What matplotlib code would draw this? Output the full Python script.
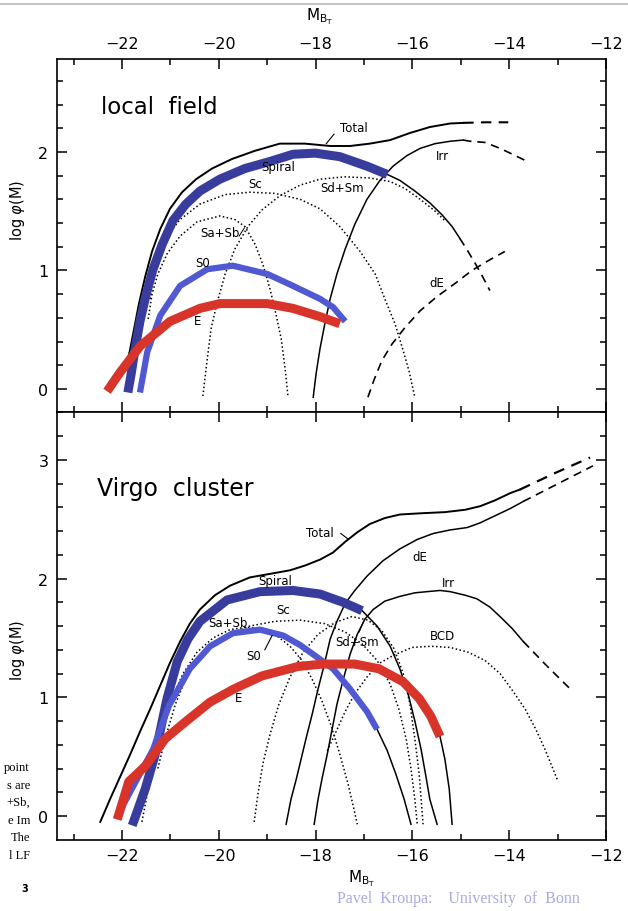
import matplotlib.pyplot as plt

# ---- local field (top panel) ----
total_top_x = [-21.90, -21.83, -21.75, -21.65, -21.52, -21.38, -21.21, -21.01, -20.76, -20.47, -20.14, -19.73, -19.25, -18.74, -18.22, -17.70, -17.29, -16.88, -16.46, -16.05, -15.64, -15.22, -14.95]
total_top_y = [0.21, 0.34, 0.51, 0.72, 0.95, 1.16, 1.35, 1.52, 1.66, 1.77, 1.86, 1.94, 2.01, 2.07, 2.07, 2.05, 2.05, 2.07, 2.10, 2.16, 2.21, 2.24, 2.245]
total_top_dx = [-14.95, -14.50, -14.02]
total_top_dy = [2.245, 2.25, 2.25]

spiral_top_x = [-21.88, -21.81, -21.73, -21.63, -21.50, -21.36, -21.17, -20.95, -20.68, -20.39, -19.98, -19.46, -18.94, -18.47, -18.01, -17.50, -16.94, -16.52]
spiral_top_y = [-0.03, 0.13, 0.34, 0.57, 0.80, 1.01, 1.22, 1.42, 1.56, 1.67, 1.77, 1.86, 1.92, 1.98, 1.99, 1.96, 1.88, 1.81]
spiral_tail_top_x = [-16.88, -16.52, -16.26, -15.95, -15.64, -15.39, -15.18, -15.02]
spiral_tail_top_y = [1.86, 1.81, 1.76, 1.67, 1.57, 1.47, 1.37, 1.27]
spiral_tail_top_dx = [-15.02, -14.85, -14.69, -14.54, -14.40]
spiral_tail_top_dy = [1.27, 1.16, 1.05, 0.94, 0.83]

s0_top_x = [-21.63, -21.55, -21.48, -21.21, -20.80, -20.24, -19.71, -19.00, -18.47, -17.91, -17.64, -17.39]
s0_top_y = [-0.03, 0.15, 0.31, 0.62, 0.87, 1.01, 1.04, 0.97, 0.87, 0.76, 0.69, 0.57]

e_top_x = [-22.31, -22.04, -21.63, -21.01, -20.39, -19.98, -19.00, -18.47, -17.91, -17.50]
e_top_y = [-0.02, 0.14, 0.36, 0.57, 0.68, 0.72, 0.72, 0.68, 0.61, 0.55]

sasb_top_x = [-21.46, -21.38, -21.26, -21.07, -20.80, -20.45, -19.98, -19.67, -19.46, -19.25, -19.09, -18.94, -18.82, -18.71, -18.63, -18.57]
sasb_top_y = [0.59, 0.80, 0.97, 1.14, 1.29, 1.41, 1.46, 1.43, 1.37, 1.22, 1.05, 0.84, 0.63, 0.42, 0.17, -0.07]

sc_top_x = [-21.42, -21.32, -21.11, -20.80, -20.39, -19.87, -19.36, -18.84, -18.32, -17.91, -17.50, -17.08, -16.77, -16.57, -16.36, -16.21, -16.07, -15.95]
sc_top_y = [0.76, 1.01, 1.27, 1.43, 1.56, 1.64, 1.66, 1.65, 1.60, 1.52, 1.37, 1.16, 0.97, 0.76, 0.55, 0.35, 0.15, -0.07]

sdsm_top_x = [-20.33, -20.24, -20.16, -20.04, -19.87, -19.67, -19.40, -19.11, -18.74, -18.32, -17.91, -17.39, -16.88, -16.46, -16.15, -15.84, -15.53, -15.33]
sdsm_top_y = [-0.06, 0.25, 0.51, 0.72, 0.97, 1.18, 1.37, 1.51, 1.63, 1.72, 1.77, 1.79, 1.78, 1.75, 1.69, 1.60, 1.50, 1.42]

irr_top_x = [-18.05, -17.99, -17.91, -17.81, -17.70, -17.56, -17.39, -17.19, -16.94, -16.67, -16.40, -16.11, -15.84, -15.53, -15.22, -14.95]
irr_top_y = [-0.07, 0.13, 0.34, 0.55, 0.76, 0.97, 1.18, 1.39, 1.60, 1.76, 1.88, 1.97, 2.03, 2.07, 2.09, 2.10]
irr_top_dx = [-14.95, -14.81, -14.50, -14.19, -13.88, -13.63]
irr_top_dy = [2.10, 2.09, 2.08, 2.03, 1.97, 1.92]

de_top_x = [-16.92, -16.79, -16.63, -16.42, -16.15, -15.84, -15.49, -15.12, -14.77, -14.40, -14.09]
de_top_y = [-0.07, 0.08, 0.24, 0.38, 0.52, 0.66, 0.78, 0.89, 1.00, 1.09, 1.16]

# ---- Virgo cluster (bottom panel) ----
total_bot_x = [-22.45, -22.25, -22.04, -21.83, -21.63, -21.42, -21.21, -21.01, -20.80, -20.60, -20.39, -20.08, -19.77, -19.36, -18.94, -18.53, -18.22, -17.91, -17.64, -17.39, -17.14, -16.88, -16.57, -16.26, -15.84, -15.33, -14.91, -14.60, -14.29, -13.98, -13.78]
total_bot_y = [-0.05, 0.14, 0.33, 0.52, 0.71, 0.90, 1.10, 1.29, 1.47, 1.62, 1.74, 1.86, 1.94, 2.01, 2.04, 2.07, 2.11, 2.16, 2.22, 2.31, 2.39, 2.46, 2.51, 2.54, 2.55, 2.56, 2.58, 2.61, 2.66, 2.72, 2.75]
total_bot_dx = [-13.78, -13.05, -12.33]
total_bot_dy = [2.75, 2.89, 3.02]

spiral_bot_x = [-21.79, -21.52, -21.32, -21.07, -20.86, -20.64, -20.39, -19.83, -19.15, -18.47, -17.91, -17.43, -17.04]
spiral_bot_y = [-0.08, 0.23, 0.51, 0.99, 1.30, 1.49, 1.64, 1.82, 1.89, 1.90, 1.87, 1.80, 1.73]
spiral_tail_bot_x = [-17.39, -17.04, -16.73, -16.46, -16.26, -16.09, -15.95, -15.82, -15.72, -15.64, -15.49]
spiral_tail_bot_y = [1.79, 1.73, 1.60, 1.43, 1.24, 1.03, 0.80, 0.56, 0.33, 0.14, -0.07]

s0_bot_x = [-22.06, -21.77, -21.36, -21.03, -20.60, -20.18, -19.71, -19.15, -18.67, -18.32, -18.01, -17.64, -17.29, -16.94, -16.73]
s0_bot_y = [0.03, 0.25, 0.56, 0.93, 1.24, 1.43, 1.54, 1.57, 1.52, 1.44, 1.35, 1.24, 1.07, 0.88, 0.73]
s0_tail_bot_x = [-16.94, -16.73, -16.52, -16.34, -16.17, -16.03]
s0_tail_bot_y = [0.88, 0.73, 0.55, 0.35, 0.14, -0.07]

e_bot_x = [-22.10, -21.86, -21.52, -21.11, -20.70, -20.18, -19.69, -19.11, -18.36, -17.85, -17.19, -16.69, -16.19, -15.86, -15.62, -15.43]
e_bot_y = [-0.03, 0.29, 0.42, 0.65, 0.79, 0.96, 1.07, 1.18, 1.26, 1.28, 1.28, 1.24, 1.13, 0.99, 0.84, 0.67]
e_tail_bot_x = [-15.62, -15.43, -15.33, -15.24, -15.18]
e_tail_bot_y = [0.84, 0.67, 0.48, 0.23, -0.07]

sasb_bot_x = [-21.59, -21.50, -21.42, -21.30, -21.15, -20.97, -20.74, -20.45, -20.12, -19.77, -19.46, -19.15, -18.84, -18.53, -18.28, -18.07, -17.87, -17.68, -17.50, -17.33, -17.21, -17.14]
sasb_bot_y = [-0.05, 0.14, 0.31, 0.52, 0.75, 0.99, 1.20, 1.38, 1.50, 1.57, 1.59, 1.58, 1.53, 1.43, 1.31, 1.15, 0.97, 0.76, 0.52, 0.27, 0.06, -0.07]

sc_bot_x = [-21.26, -21.11, -20.90, -20.64, -20.29, -19.87, -19.36, -18.84, -18.32, -17.81, -17.39, -17.04, -16.73, -16.46, -16.28, -16.13, -16.03, -15.95, -15.90]
sc_bot_y = [0.40, 0.65, 0.94, 1.20, 1.39, 1.52, 1.60, 1.64, 1.65, 1.62, 1.55, 1.45, 1.31, 1.11, 0.90, 0.65, 0.40, 0.14, -0.07]

sdsm_bot_x = [-19.27, -19.19, -19.09, -18.94, -18.76, -18.53, -18.26, -17.95, -17.60, -17.25, -16.92, -16.63, -16.38, -16.19, -16.05, -15.95, -15.86, -15.82, -15.78]
sdsm_bot_y = [-0.05, 0.19, 0.44, 0.69, 0.94, 1.17, 1.38, 1.53, 1.63, 1.68, 1.65, 1.56, 1.41, 1.20, 0.94, 0.65, 0.35, 0.14, -0.07]

de_bot_x = [-18.61, -18.51, -18.40, -18.30, -18.20, -18.07, -17.95, -17.83, -17.70, -17.56, -17.39, -17.19, -16.94, -16.61, -16.26, -15.90, -15.57, -15.22, -14.87, -14.60, -14.29, -13.98, -13.71]
de_bot_y = [-0.07, 0.14, 0.31, 0.48, 0.65, 0.86, 1.07, 1.26, 1.49, 1.64, 1.79, 1.90, 2.02, 2.15, 2.25, 2.33, 2.38, 2.41, 2.43, 2.47, 2.53, 2.59, 2.65]
de_bot_dx = [-13.71, -12.99, -12.27]
de_bot_dy = [2.65, 2.80, 2.95]

irr_bot_x = [-18.03, -17.95, -17.87, -17.76, -17.66, -17.56, -17.43, -17.29, -17.14, -16.98, -16.81, -16.57, -16.26, -15.95, -15.70, -15.43, -15.22, -14.91, -14.67, -14.40, -14.19, -13.94, -13.71]
irr_bot_y = [-0.07, 0.14, 0.31, 0.52, 0.73, 0.94, 1.15, 1.36, 1.53, 1.66, 1.74, 1.81, 1.85, 1.88, 1.89, 1.90, 1.89, 1.86, 1.83, 1.76, 1.68, 1.58, 1.47]
irr_bot_dx = [-13.71, -13.26, -12.74]
irr_bot_dy = [1.47, 1.28, 1.07]

bcd_bot_x = [-17.76, -17.60, -17.39, -17.19, -16.94, -16.67, -16.36, -16.01, -15.62, -15.22, -14.85, -14.50, -14.19, -13.92, -13.67, -13.45, -13.26, -13.12, -12.99]
bcd_bot_y = [0.55, 0.69, 0.88, 1.03, 1.17, 1.29, 1.36, 1.42, 1.43, 1.42, 1.38, 1.31, 1.20, 1.05, 0.90, 0.73, 0.56, 0.42, 0.29]

side_lines = ["point", "s are", "+Sb,", "e Im", "The", "l LF"]

DARK = "#383c9c"
MID = "#5058d2"
RED = "#d8342a"
DOT = (0, (1, 1.6))
DASH = (0, (5, 3.5))

fig = plt.figure(figsize=(6.28, 9.12), dpi=100)
ax1 = fig.add_axes([0.0903, 0.5471, 0.8747, 0.3871])
ax2 = fig.add_axes([0.0903, 0.0779, 0.8747, 0.4693])

for ax in (ax1, ax2):
    ax.set_xlim(-23.35, -12)
    ax.set_xticks([-22, -20, -18, -16, -14, -12])
    ax.set_xticklabels(["\u221222", "\u221220", "\u221218", "\u221216", "\u221214", "\u221212"])
    ax.set_xticks(range(-23, -11), minor=True)
    ax.tick_params(which="both", direction="in", top=True, right=True, width=1.1, labelsize=11.5, pad=6)
    ax.tick_params(which="major", length=7)
    ax.tick_params(which="minor", length=4)
    for s in ax.spines.values():
        s.set_linewidth(1.2)
    ax.set_ylabel(r"log $\varphi$(M)", fontsize=10.5)

ax1.set_ylim(-0.195, 2.784)
ax1.set_yticks([0, 1, 2])
ax1.set_yticks([i * 0.2 for i in range(14)], minor=True)
ax1.tick_params(labeltop=True, labelbottom=False)
ax1.yaxis.set_label_coords(-0.054, 0.575)

ax2.set_ylim(-0.202, 3.404)
ax2.set_yticks([0, 1, 2, 3])
ax2.set_yticks([i * 0.2 for i in range(18)], minor=True)
ax2.yaxis.set_label_coords(-0.054, 0.446)

thin = dict(color="black", lw=1.1)
dotted = dict(color="black", lw=1.1, ls=DOT)
dashed = dict(color="black", lw=1.2, ls=DASH)

# top panel
ax1.plot(sasb_top_x, sasb_top_y, **dotted)
ax1.plot(sc_top_x, sc_top_y, **dotted)
ax1.plot(sdsm_top_x, sdsm_top_y, **dotted)
ax1.plot(irr_top_x, irr_top_y, **thin)
ax1.plot(irr_top_dx, irr_top_dy, **dashed)
ax1.plot(de_top_x, de_top_y, **dashed)
ax1.plot(spiral_tail_top_x, spiral_tail_top_y, **thin)
ax1.plot(spiral_tail_top_dx, spiral_tail_top_dy, **dashed)
ax1.plot(total_top_x, total_top_y, color="black", lw=1.4)
ax1.plot(total_top_dx, total_top_dy, color="black", lw=1.5, ls=DASH)
ax1.plot(spiral_top_x, spiral_top_y, color=DARK, lw=6.5, solid_capstyle="butt")
ax1.plot(s0_top_x, s0_top_y, color=MID, lw=4.5, solid_capstyle="butt")
ax1.plot(e_top_x, e_top_y, color=RED, lw=6.5, solid_capstyle="butt")

lab = dict(fontsize=8.5, ha="center", va="center")
ax1.text(-21.24, 2.38, "local  field", fontsize=16.5, ha="center", va="center")
ax1.text(-17.22, 2.21, "Total", **lab)
ax1.plot([-17.62, -17.78], [2.15, 2.07], color="black", lw=0.8)
ax1.text(-18.78, 1.88, "Spiral", **lab)
ax1.text(-19.25, 1.73, "Sc", **lab)
ax1.text(-19.98, 1.32, "Sa+Sb", **lab)
ax1.plot([-19.58, -19.47], [1.29, 1.36], color="black", lw=0.7)
ax1.text(-20.33, 1.07, "S0", **lab)
ax1.text(-20.43, 0.58, "E", **lab)
ax1.text(-17.45, 1.70, "Sd+Sm", **lab)
ax1.text(-15.39, 1.97, "Irr", **lab)
ax1.text(-15.49, 0.90, "dE", **lab)

# bottom panel
ax2.plot(sasb_bot_x, sasb_bot_y, **dotted)
ax2.plot(sc_bot_x, sc_bot_y, **dotted)
ax2.plot(sdsm_bot_x, sdsm_bot_y, **dotted)
ax2.plot(bcd_bot_x, bcd_bot_y, **dotted)
ax2.plot(irr_bot_x, irr_bot_y, **thin)
ax2.plot(irr_bot_dx, irr_bot_dy, **dashed)
ax2.plot(de_bot_x, de_bot_y, **thin)
ax2.plot(de_bot_dx, de_bot_dy, **dashed)
ax2.plot(spiral_tail_bot_x, spiral_tail_bot_y, **thin)
ax2.plot(s0_tail_bot_x, s0_tail_bot_y, **thin)
ax2.plot(e_tail_bot_x, e_tail_bot_y, **thin)
ax2.plot(total_bot_x, total_bot_y, color="black", lw=1.4)
ax2.plot(total_bot_dx, total_bot_dy, color="black", lw=1.6, ls=DASH)
ax2.plot(spiral_bot_x, spiral_bot_y, color=DARK, lw=6.5, solid_capstyle="butt")
ax2.plot(s0_bot_x, s0_bot_y, color=MID, lw=4.5, solid_capstyle="butt")
ax2.plot(e_bot_x, e_bot_y, color=RED, lw=6.5, solid_capstyle="butt")

ax2.text(-20.90, 2.76, "Virgo  cluster", fontsize=17, ha="center", va="center")
ax2.text(-17.91, 2.39, "Total", **lab)
ax2.plot([-17.48, -17.32], [2.38, 2.33], color="black", lw=0.8)
ax2.text(-18.84, 1.98, "Spiral", **lab)
ax2.text(-18.67, 1.74, "Sc", **lab)
ax2.text(-19.81, 1.63, "Sa+Sb", **lab)
ax2.text(-19.29, 1.35, "S0", **lab)
ax2.plot([-19.05, -18.90], [1.40, 1.52], color="black", lw=0.8)
ax2.text(-19.60, 1.00, "E", **lab)
ax2.text(-17.14, 1.47, "Sd+Sm", **lab)
ax2.plot([-17.10, -17.02], [1.55, 1.63], color="black", lw=0.7)
ax2.text(-15.84, 2.19, "dE", **lab)
ax2.text(-15.26, 1.97, "Irr", **lab)
ax2.text(-15.37, 1.52, "BCD", **lab)

# axis titles and slide furniture
fig.text(320 / 628, 1 - 17 / 912, r"M$_{\mathrm{B_T}}$", fontsize=11, ha="center", va="center")
fig.text(362 / 628, 1 - 879 / 912, r"M$_{\mathrm{B_T}}$", fontsize=11, ha="center", va="center")
fig.add_artist(plt.Line2D([0, 1], [1 - 4.5 / 912, 1 - 4.5 / 912], color="#b8b8b8", lw=1.2))
for i, t in enumerate(side_lines):
    fig.text(30 / 628, 1 - (768 + 17.6 * i) / 912, t, fontsize=9, family="Liberation Serif",
             ha="right", va="center")
fig.text(25 / 628, 1 - 889 / 912, "3", fontsize=7, fontweight="bold", ha="center", va="center")
fig.text(458 / 628, 1 - 899 / 912, "Pavel  Kroupa:    University  of  Bonn", fontsize=11.5,
         family="Liberation Serif", color="#a9a9e4", ha="center", va="center")

fig.savefig("out.png", dpi=100)
